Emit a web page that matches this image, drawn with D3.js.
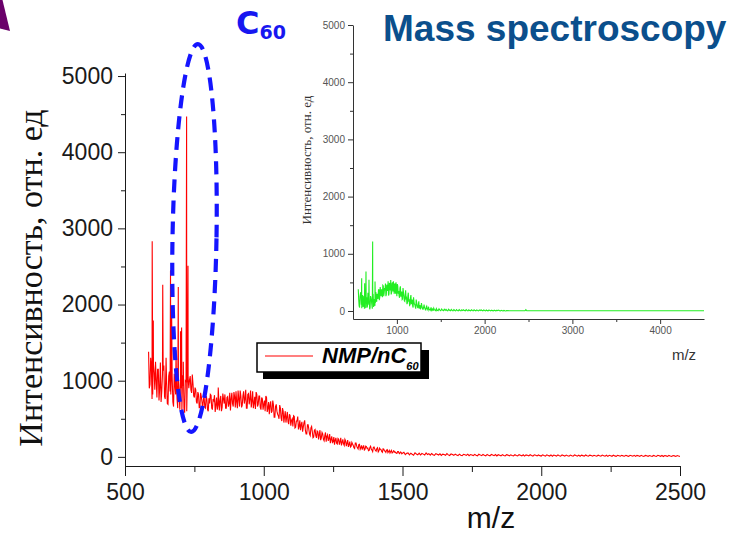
<!DOCTYPE html>
<html>
<head>
<meta charset="utf-8">
<script src="https://cdn.jsdelivr.net/npm/d3@7"></script>
<style>
  body { margin: 0; background: #fff; }
  svg { display: block; }
</style>
</head>
<body>
<svg id="chart" width="738" height="534"></svg>
<script>
// ---- Main spectrum (NMP/nC60): intensities sampled every 5 m/z starting at 585 ----
const mainStartMz = 585;
const mainStepMz = 5;
const mainIntensity = [
  1380, 950, 1180, 820, 1100, 1250, 780, 1150, 900, 720, 1080, 1200, 760, 980, 690, 1120, 820, 1050, 660, 940,
  1100, 640, 860, 1020, 600, 930, 580, 990, 1120, 900, 1060, 840, 960, 780, 880, 700, 820, 660, 790, 620,
  790, 640, 760, 600, 700, 810, 620, 740, 590, 780, 680, 610, 800, 650, 760, 820, 640, 790, 700, 610,
  840, 660, 790, 860, 640, 760, 870, 650, 800, 700, 880, 640, 830, 760, 650, 860, 700, 630, 820, 690,
  800, 620, 760, 690, 600, 780, 640, 560, 730, 600, 680, 520, 690, 560, 500, 640, 470, 600, 530, 450,
  590, 430, 540, 480, 400, 530, 390, 470, 360, 480, 420, 330, 450, 350, 300, 420, 300, 380, 330, 260,
  360, 250, 330, 290, 220, 320, 230, 280, 200, 290, 240, 180, 270, 200, 160, 250, 170, 230, 200, 150,
  230, 150, 210, 180, 130, 200, 140, 170, 120, 180, 140, 105, 165, 120, 95, 150, 100, 135, 115, 85,
  140, 90, 125, 105, 75, 120, 80, 100, 70, 105, 80, 60, 95, 70, 52, 85, 55, 75, 62, 45,
  70, 42, 60, 48,
  60, 30, 46, 52, 26, 48, 34, 22, 54, 38, 28, 50, 25, 44, 36, 24, 52, 30, 41, 22,
  44, 28, 20, 42, 33, 24, 40, 19, 36, 30, 21, 43, 26, 18, 38, 31, 20, 36, 24, 17,
  36, 22, 16, 34, 27, 19, 35, 15, 30, 24, 17, 33, 21, 14, 34, 26, 16, 31, 20, 13,
  32, 20, 14, 31, 24, 15, 30, 12, 28, 22, 14, 30, 19, 12, 29, 23, 13, 27, 18, 12,
  28, 18, 12, 29, 21, 13, 27, 10, 26, 20, 12, 28, 17, 10, 27, 21, 12, 25, 16, 11,
  26, 17, 10, 27, 19, 11, 25, 9, 24, 18, 10, 26, 15, 9, 25, 19, 10, 23, 15, 10,
  24, 15, 9, 25, 17, 10, 23, 8, 22, 16, 9, 24, 14, 8, 23, 17, 9, 21, 14, 9,
  22, 14, 8, 23, 16, 9, 21, 7, 20, 15, 8, 22, 13, 7, 21, 15, 8, 20, 13, 8,
  20, 13, 7, 21, 15, 8, 20, 6, 19, 14, 7, 20, 12, 6, 19, 14, 7, 18, 12, 7,
  19, 12, 6, 20, 14, 7, 18, 5, 18, 13, 6, 19, 11, 5, 18, 13, 6, 17, 11, 6
];
// Intermediate samples of the noisy low-mass region (587.5 … 1497.5, every 5 m/z)
const mainMidStartMz = 587.5;
const mainMidIntensity = [
  900, 1300, 760, 1220, 880, 1010, 1150, 740, 1240, 860, 1130, 790, 1190, 700, 1060, 860, 1140, 720, 1090, 820,
  760, 1030, 620, 900, 1070, 640, 1000, 600, 1040, 1010, 880, 1080, 800, 910, 720, 850, 640, 840, 720, 760,
  650, 800, 620, 770, 820, 640, 760, 810, 680, 620, 790, 740, 600, 830, 700, 640, 780, 660, 840, 760,
  700, 850, 650, 720, 870, 660, 800, 680, 860, 760, 640, 820, 690, 870, 730, 640, 790, 850, 660, 800,
  650, 780, 620, 740, 800, 590, 720, 680, 580, 740, 520, 660, 600, 540, 680, 510, 640, 450, 600, 520,
  460, 560, 410, 500, 540, 380, 470, 530, 400, 350, 460, 390, 480, 300, 420, 360, 280, 400, 250, 350,
  280, 340, 230, 350, 250, 300, 210, 320, 270, 210, 300, 230, 190, 260, 220, 180, 240, 160, 250, 190,
  170, 230, 140, 220, 160, 130, 190, 150, 110, 180, 120, 160, 100, 150, 125, 90, 140, 110, 80, 125,
  100, 70, 130, 85, 110, 65, 115, 95, 60, 100, 75, 90, 55, 85, 70, 50, 80, 60, 48, 70,
  50, 65, 40
];
// Sharp cluster peaks of the main spectrum
const mainPeakMz =        [598, 602, 636, 648, 664, 668, 684, 692, 700, 704, 710, 722, 727, 836];
const mainPeakIntensity = [2830, 1790, 2260, 1300, 2450, 1900, 1400, 2230, 1650, 1700, 1250, 4470, 2510, 910];

// ---- Inset spectrum: intensities every 10 m/z starting at 560 ----
const insetStartMz = 560;
const insetStepMz = 10;
const insetIntensity = [
  380, 90, 250, 330, 50, 280, 140, 40, 300, 200, 60, 320, 110, 30, 260, 180, 40, 290, 150, 90,
  330, 160, 280, 360, 190, 420, 260, 330, 450, 260, 400, 480, 290, 430, 520, 300, 470, 540, 320, 500,
  520, 300, 460, 500, 260, 440, 350, 230, 430, 300, 200, 400, 260, 170, 360, 230, 140, 320, 190, 110,
  280, 150, 90, 240, 120, 70, 200, 100, 50, 170, 80, 40, 140, 60, 30, 110, 45, 20, 85, 30,
  75, 25, 12, 62, 30, 8, 50, 22, 6, 42, 18, 6, 38, 15, 5, 34, 14, 4, 30, 10,
  28, 10, 4, 30, 12, 4, 27, 9, 3, 26, 10, 3, 24, 8, 3, 25, 9, 3, 22, 8,
  22, 8, 2, 23, 9, 3, 21, 7, 2, 20, 8, 2, 22, 7, 2, 19, 8, 3, 18, 6,
  20, 7, 2, 18, 8, 2, 17, 6, 2, 18, 7, 2, 16, 6, 2, 15, 6, 2, 14, 5,
  15, 5, 2, 12, 4, 2, 10, 3, 1, 6
];
// Intermediate inset samples (565 … 1455, every 10 m/z)
const insetMidStartMz = 565;
const insetMidIntensity = [
  200, 60, 310, 110, 230, 70, 260, 150, 50, 240, 90, 280, 180, 60, 230, 100, 300, 70, 210, 140,
  230, 300, 210, 380, 240, 300, 380, 240, 440, 310, 360, 260, 460, 350, 270, 490, 360, 290, 480, 340,
  380, 480, 300, 360, 470, 300, 270, 400, 250, 340, 210, 330, 180, 280, 220, 120, 260, 180, 100, 230,
  120, 200, 60, 160, 110, 40, 150, 70, 120, 40, 100, 50, 90, 30, 70, 60, 20, 70, 40, 15,
  45, 20, 40, 14, 35, 12, 30, 10, 28, 8
];
const insetPeakMz =        [599, 633, 648, 682, 724, 751];
const insetPeakIntensity = [573, 486, 690, 544, 1216, 514];
// Flat high-mass tail of the inset spectrum
const insetTailMz =        [2300, 2460, 2470, 2480, 2700, 3000, 3500, 4000, 4500];
const insetTailIntensity = [3, 3, 22, 3, 3, 3, 3, 3, 3];

// ---- Axis ticks ----
const mainXTicks = [500, 1000, 1500, 2000, 2500];
const mainXMinor = [750, 1250, 1750, 2250];
const mainYTicks = [0, 1000, 2000, 3000, 4000, 5000];
const mainYMinor = [500, 1500, 2500, 3500, 4500];
const insetXTicks = [1000, 2000, 3000, 4000];
const insetXMinor = [1500, 2500, 3500];
const insetYTicks = [0, 1000, 2000, 3000, 4000, 5000];
const insetYMinor = [500, 1500, 2500, 3500, 4500];

const yLabel = "Интенсивность, отн. ед";
const xLabel = "m/z";
const legendLabel = "NMP/nC";
const legendSub = "60";

// ---- Helpers ----
function gridPoints(start, step, values) {
  return values.map((v, i) => ({ mz: start + i * step, v }));
}
function pairPoints(mzs, values) {
  return mzs.map((m, i) => ({ mz: m, v: values[i] }));
}
function mergeSeries(...parts) {
  return [].concat(...parts).sort((a, b) => a.mz - b.mz);
}

const sans = "'Liberation Sans', Arial, sans-serif";
const serif = "'Liberation Serif', 'Times New Roman', serif";
const svg = d3.select("#chart");

function styleAxis(g, color, fontSize) {
  g.select(".domain").attr("stroke", color).attr("stroke-width", 1);
  g.selectAll(".tick line").attr("stroke", color).attr("stroke-width", 1);
  g.selectAll(".tick text").attr("fill", color).attr("font-family", sans).attr("font-size", fontSize);
}

// ---- Decorations ----
svg.append("polygon")
  .attr("points", "0,0 2.5,0 10,31 0,28.5")
  .attr("fill", "#6a006a");

svg.append("text")
  .attr("x", 383).attr("y", 41)
  .attr("font-family", sans).attr("font-weight", "bold").attr("font-size", 37)
  .attr("fill", "#0b4f8c")
  .text("Mass spectroscopy");

const c60 = svg.append("text")
  .attr("x", 236).attr("y", 34)
  .attr("font-family", "'DejaVu Sans', Verdana, sans-serif").attr("font-weight", "bold")
  .attr("fill", "#1717f0");
c60.append("tspan").attr("font-size", 32).text("C");
c60.append("tspan").attr("font-size", 19).attr("dy", 5).text("60");

// ---- Main chart ----
const x = d3.scaleLinear().domain([500, 2500]).range([125, 680]);
const y = d3.scaleLinear().domain([-120, 5040]).range([466, 73]);

const gMain = svg.append("g");
const gxMinor = gMain.append("g").attr("transform", "translate(0,466)")
  .call(d3.axisBottom(x).tickValues(mainXMinor).tickFormat("").tickSize(6).tickSizeOuter(0));
gxMinor.select(".domain").remove();
styleAxis(gxMinor, "#1a1a1a", 23);
const gx = gMain.append("g").attr("transform", "translate(0,466)")
  .call(d3.axisBottom(x).tickValues(mainXTicks).tickFormat(d3.format("d")).tickSize(10).tickSizeOuter(0).tickPadding(8));
styleAxis(gx, "#1a1a1a", 23);

const gyMinor = gMain.append("g").attr("transform", "translate(125,0)")
  .call(d3.axisLeft(y).tickValues(mainYMinor).tickFormat("").tickSize(4).tickSizeOuter(0));
gyMinor.select(".domain").remove();
styleAxis(gyMinor, "#1a1a1a", 23);
const gy = gMain.append("g").attr("transform", "translate(125,0)")
  .call(d3.axisLeft(y).tickValues(mainYTicks).tickFormat(d3.format("d")).tickSize(7).tickSizeOuter(0).tickPadding(5));
styleAxis(gy, "#1a1a1a", 23);

svg.append("text")
  .attr("transform", "translate(42,278) rotate(-90)")
  .attr("text-anchor", "middle")
  .attr("font-family", serif).attr("font-size", 34)
  .attr("fill", "#111")
  .text(yLabel);

svg.append("text")
  .attr("x", 491).attr("y", 528)
  .attr("text-anchor", "middle")
  .attr("font-family", sans).attr("font-size", 30)
  .attr("fill", "#111")
  .text(xLabel);

const mainSeries = mergeSeries(
  gridPoints(mainStartMz, mainStepMz, mainIntensity),
  gridPoints(mainMidStartMz, mainStepMz, mainMidIntensity),
  pairPoints(mainPeakMz, mainPeakIntensity)
);
const mainLine = d3.line().x(d => x(d.mz)).y(d => y(d.v));
svg.append("path")
  .datum(mainSeries)
  .attr("d", mainLine)
  .attr("fill", "none")
  .attr("stroke", "#ff0000")
  .attr("stroke-width", 1.1);

// ---- Inset chart ----
const xi = d3.scaleLinear().domain([500, 4500]).range([353, 704]);
const yi = d3.scaleLinear().domain([-140, 5000]).range([319, 25]);

const gixMinor = svg.append("g").attr("transform", "translate(0,319)")
  .call(d3.axisBottom(xi).tickValues(insetXMinor).tickFormat("").tickSize(3).tickSizeOuter(0));
gixMinor.select(".domain").remove();
styleAxis(gixMinor, "#333", 10);
const gix = svg.append("g").attr("transform", "translate(0,319)")
  .call(d3.axisBottom(xi).tickValues(insetXTicks).tickFormat(d3.format("d")).tickSize(5).tickSizeOuter(0).tickPadding(3));
styleAxis(gix, "#333", 10);
gix.selectAll(".tick text").attr("fill", "#555");

const giyMinor = svg.append("g").attr("transform", "translate(353,0)")
  .call(d3.axisLeft(yi).tickValues(insetYMinor).tickFormat("").tickSize(3).tickSizeOuter(0));
giyMinor.select(".domain").remove();
styleAxis(giyMinor, "#333", 10);
const giy = svg.append("g").attr("transform", "translate(353,0)")
  .call(d3.axisLeft(yi).tickValues(insetYTicks).tickFormat(d3.format("d")).tickSize(5).tickSizeOuter(0).tickPadding(3));
styleAxis(giy, "#333", 10);
giy.selectAll(".tick text").attr("fill", "#555");

svg.append("text")
  .attr("transform", "translate(311,160) rotate(-90)")
  .attr("text-anchor", "middle")
  .attr("font-family", serif).attr("font-size", 13)
  .attr("fill", "#333")
  .text(yLabel);

svg.append("text")
  .attr("x", 684).attr("y", 360)
  .attr("text-anchor", "middle")
  .attr("font-family", sans).attr("font-size", 15)
  .attr("fill", "#333")
  .text(xLabel);

const insetSeries = mergeSeries(
  gridPoints(insetStartMz, insetStepMz, insetIntensity),
  gridPoints(insetMidStartMz, insetStepMz, insetMidIntensity),
  pairPoints(insetPeakMz, insetPeakIntensity),
  pairPoints(insetTailMz, insetTailIntensity)
);
const insetLine = d3.line().x(d => xi(d.mz)).y(d => yi(d.v));
svg.append("path")
  .datum(insetSeries)
  .attr("d", insetLine)
  .attr("fill", "none")
  .attr("stroke", "#22ee22")
  .attr("stroke-width", 1.1);

// ---- Legend with drop shadow ----
const lg = svg.append("g");
lg.append("rect").attr("x", 263).attr("y", 350).attr("width", 166).attr("height", 29).attr("fill", "#000");
lg.append("rect").attr("x", 257).attr("y", 343).attr("width", 164).attr("height", 29)
  .attr("fill", "#fff").attr("stroke", "#000").attr("stroke-width", 1.5);
lg.append("line").attr("x1", 265).attr("x2", 313).attr("y1", 356).attr("y2", 356)
  .attr("stroke", "#ff0000").attr("stroke-width", 1.2);
const lt = lg.append("text")
  .attr("x", 322).attr("y", 363)
  .attr("font-family", sans).attr("font-weight", "bold").attr("font-style", "italic")
  .attr("fill", "#000");
lt.append("tspan").attr("font-size", 22).text(legendLabel);
lt.append("tspan").attr("font-size", 11).attr("dy", 7).text(legendSub);

// ---- Dashed ellipse around the C60 cluster ----
svg.append("ellipse")
  .attr("cx", 0).attr("cy", 0).attr("rx", 22).attr("ry", 194)
  .attr("transform", "translate(194.5,238) rotate(1)")
  .attr("fill", "none")
  .attr("stroke", "#1515ff")
  .attr("stroke-width", 4.2)
  .attr("stroke-dasharray", "13 8");
</script>
</body>
</html>
